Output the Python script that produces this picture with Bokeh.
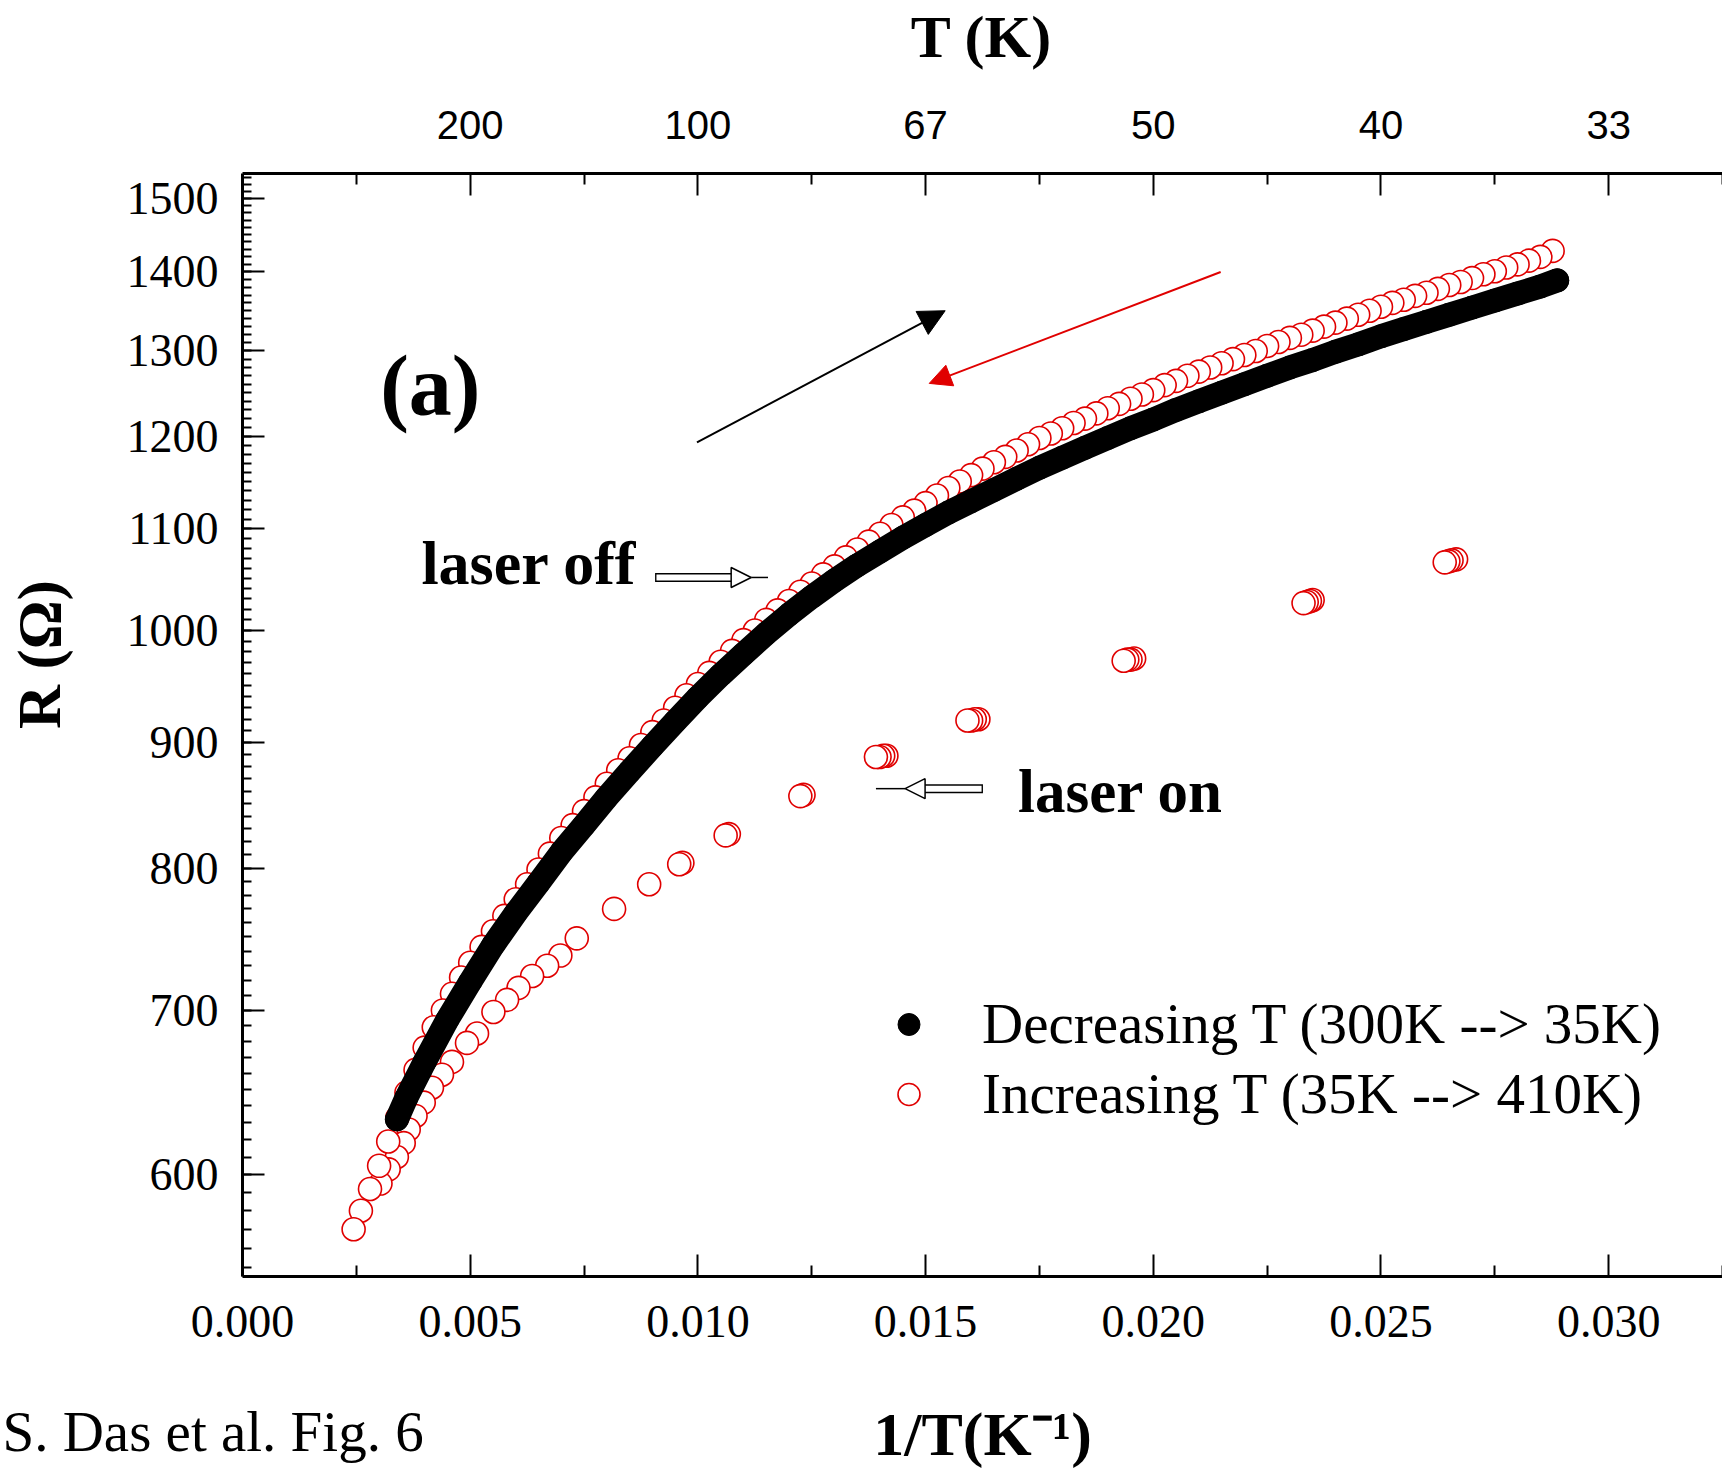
import math
from bokeh.plotting import figure
from bokeh.models import (Range1d, LinearAxis, LogAxis, FixedTicker, PrintfTickFormatter, Legend,
                          LegendItem, Label, Arrow, NormalHead)
from bokeh.embed import file_html
from bokeh.resources import INLINE

# ---------------- data ----------------
# Decreasing T (300K --> 35K), laser off
dec_x = [0.00339, 0.0036, 0.0040, 0.0045, 0.0050, 0.0055, 0.0060, 0.0065, 0.0070, 0.0075,
         0.0080, 0.0085, 0.0090, 0.0095, 0.0100, 0.0105, 0.0110, 0.0115, 0.0120, 0.0125,
         0.0130, 0.0135, 0.0140, 0.0145, 0.0150, 0.0155, 0.0160, 0.0165, 0.0170, 0.0175,
         0.0180, 0.0185, 0.0190, 0.0195, 0.0200, 0.0205, 0.0210, 0.0215, 0.0220, 0.0225,
         0.0230, 0.0235, 0.0240, 0.0245, 0.0250, 0.0255, 0.0260, 0.0265, 0.0270, 0.0275,
         0.0280, 0.0285, 0.02887]
dec_R = [632, 645, 667, 694, 719, 744, 767, 789, 812, 833,
         855, 876, 897, 918, 939, 959, 978, 997, 1015, 1032,
         1048, 1063, 1077, 1091, 1104, 1117, 1129, 1141, 1153, 1165,
         1176, 1187, 1198, 1209, 1219, 1230, 1240, 1250, 1260, 1270,
         1280, 1289, 1299, 1308, 1318, 1327, 1336, 1345, 1354, 1363,
         1372, 1381, 1389]

# Increasing T (35K --> 410K), laser off branch
inc_off_x = [0.00244, 0.0026, 0.0028, 0.0030, 0.0032, 0.0034, 0.0036, 0.0038, 0.0040, 0.0042,
             0.0044, 0.0046, 0.0048, 0.0050, 0.00525, 0.0055, 0.00575, 0.0060, 0.00625, 0.0065,
             0.00675, 0.0070, 0.00725, 0.0075, 0.00775, 0.0080, 0.00825, 0.0085, 0.00875, 0.0090,
             0.00925, 0.0095, 0.00975, 0.0100, 0.01025, 0.0105, 0.01075, 0.0110, 0.01125, 0.0115,
             0.01175, 0.0120, 0.01225, 0.0125, 0.01275, 0.0130, 0.01325, 0.0135, 0.01375, 0.0140,
             0.01425, 0.0145, 0.01475, 0.0150, 0.01525, 0.0155, 0.01575, 0.0160, 0.01625, 0.0165,
             0.01675, 0.0170, 0.01725, 0.0175, 0.01775, 0.0180, 0.01825, 0.0185, 0.01875, 0.0190,
             0.01925, 0.0195, 0.01975, 0.0200, 0.02025, 0.0205, 0.02075, 0.0210, 0.02125, 0.0215,
             0.02175, 0.0220, 0.02225, 0.0225, 0.02275, 0.0230, 0.02325, 0.0235, 0.02375, 0.0240,
             0.02425, 0.0245, 0.02475, 0.0250, 0.02525, 0.0255, 0.02575, 0.0260, 0.02625, 0.0265,
             0.02675, 0.0270, 0.02725, 0.0275, 0.02775, 0.0280, 0.02825, 0.0285, 0.02877]
inc_off_R = [570, 580, 592, 605, 619, 633, 648, 662, 676, 689,
             700, 711, 722, 732, 743, 754, 765, 777, 788, 799,
             811, 823, 833, 844, 855, 866, 877, 887, 898, 909,
             919, 930, 941, 951, 961, 971, 981, 991, 1000, 1010,
             1019, 1028, 1037, 1045, 1054, 1062, 1071, 1079, 1087, 1095,
             1104, 1112, 1119, 1127, 1135, 1143, 1150, 1157, 1164, 1171,
             1177, 1184, 1191, 1198, 1203, 1209, 1215, 1220, 1226, 1232,
             1237, 1243, 1248, 1253, 1259, 1264, 1270, 1275, 1280, 1285,
             1290, 1295, 1300, 1306, 1311, 1316, 1320, 1325, 1330, 1335,
             1340, 1345, 1350, 1355, 1360, 1364, 1369, 1373, 1378, 1383,
             1387, 1392, 1397, 1401, 1406, 1410, 1415, 1420, 1428]

# Increasing T, laser on points
inc_on_x = [0.00303, 0.00321, 0.00339, 0.00354, 0.00365, 0.0038, 0.00398, 0.00416, 0.00438, 0.0046,
            0.00493, 0.00515, 0.00551, 0.00581, 0.00606, 0.00636, 0.00669, 0.00698, 0.00734, 0.00816,
            0.00893, 0.00959, 0.00966, 0.01061, 0.01068, 0.01225, 0.01232, 0.01391, 0.01399, 0.01407,
            0.01414, 0.01592, 0.0160, 0.01608, 0.01616, 0.01935, 0.01943, 0.0195, 0.01958, 0.0233,
            0.02337, 0.02344, 0.0235, 0.0264, 0.02648, 0.02655, 0.02665]
inc_on_R = [595, 603, 610, 618, 626, 634, 642, 651, 659, 667,
            679, 685, 699, 707, 715, 723, 730, 737, 749, 770,
            788, 803, 804, 825, 826, 856, 857, 888, 888, 889,
            889, 919, 919, 920, 920, 972, 973, 973, 974, 1026,
            1027, 1028, 1029, 1066, 1067, 1068, 1069]

x_ticks = [0.000, 0.005, 0.010, 0.015, 0.020, 0.025, 0.030]
x_minor = [0.0025, 0.0075, 0.0125, 0.0175, 0.0225, 0.0275, 0.0325]
y_ticks = [600, 700, 800, 900, 1000, 1100, 1200, 1300, 1400, 1500]
y_minor = list(range(550, 1540, 10))
T_pos = [0.005, 0.010, 0.015, 0.020, 0.025, 0.030]
T_labels = ["200", "100", "67", "50", "40", "33"]

dec_label = "Decreasing T (300K --> 35K)"
inc_label = "Increasing T (35K --> 410K)"
x_title = "1/T(K\u207b\u00b9)"
top_title = "T (K)"
y_title = "R (\u03a9)"
caption = "S. Das et al. Fig. 6"

SERIF = "Liberation Serif"
SANS = "Liberation Sans"
RED = "#e00000"

# ---------------- geometry: the plot box inside the page ----------------
W, H = 1722, 1473
BOX_L, BOX_R, BOX_T, BOX_B = 242, 1722, 173, 1276
X0, X1 = 0.0, 0.0325
R0, R1 = 545.3, 1535.6

dxpp = (X1 - X0) / (BOX_R - BOX_L)
x_lo = X0 - BOX_L * dxpp
x_hi = X1 + (W - BOX_R) * dxpp
dlpp = (math.log10(R1) - math.log10(R0)) / (BOX_B - BOX_T)
R_hi = 10 ** (math.log10(R1) + BOX_T * dlpp)
R_lo = 10 ** (math.log10(R0) - (H - BOX_B) * dlpp)

p = figure(width=W, height=H, x_range=Range1d(x_lo, x_hi), y_range=Range1d(R_lo, R_hi),
           y_axis_type="log", x_axis_location=None, y_axis_location=None,
           output_backend="svg", toolbar_location=None,
           min_border=0, min_border_left=0, min_border_right=0, min_border_top=0,
           min_border_bottom=0)
p.outline_line_color = None
p.grid.visible = False
p.background_fill_color = "white"
p.border_fill_color = "white"


def style_axis(ax, tin, mtin):
    ax.axis_line_width = 3
    ax.axis_line_color = "black"
    ax.major_tick_in = tin
    ax.major_tick_out = 0
    ax.minor_tick_in = mtin
    ax.minor_tick_out = 0
    ax.major_tick_line_width = 2
    ax.minor_tick_line_width = 2
    ax.major_tick_line_color = "black"
    ax.minor_tick_line_color = "black"
    ax.major_label_text_color = "black"


xb = LinearAxis(ticker=FixedTicker(ticks=x_ticks, minor_ticks=x_minor),
                formatter=PrintfTickFormatter(format="%.3f"),
                fixed_location=R0, bounds=(X0, X1))
style_axis(xb, 22, 11)
xb.major_label_text_font = SERIF
xb.major_label_text_font_size = "46px"
xb.major_label_standoff = 29
p.add_layout(xb, "below")

yl = LogAxis(ticker=FixedTicker(ticks=y_ticks, minor_ticks=y_minor),
             formatter=PrintfTickFormatter(format="%d"),
             fixed_location=X0, bounds=(R0, R1))
style_axis(yl, 22, 9)
yl.major_label_text_font = SERIF
yl.major_label_text_font_size = "46px"
yl.major_label_standoff = 24
p.add_layout(yl, "left")

top = LinearAxis(ticker=FixedTicker(ticks=T_pos, minor_ticks=x_minor),
                 major_label_overrides={t: s for t, s in zip(T_pos, T_labels)},
                 fixed_location=R1, bounds=(X0, X1))
style_axis(top, 22, 11)
top.major_label_text_font = SANS
top.major_label_text_font_size = "40px"
top.major_label_standoff = 35
p.add_layout(top, "above")

# ---------------- series ----------------
red_all = sorted(zip(inc_off_x + inc_on_x, inc_off_R + inc_on_R), key=lambda t: -t[0])
red_x = [a for a, b in red_all]
red_R = [b for a, b in red_all]
red_pts = p.scatter(red_x, red_R, marker="circle", size=23, fill_color="white",
                    line_color=RED, line_width=1.6)
p.line(dec_x, dec_R, line_width=24, line_color="black", line_cap="round", line_join="round")
black_pts = p.scatter(dec_x, dec_R, marker="circle", size=23, fill_color="black", line_color="black")

legend = Legend(items=[LegendItem(label=dec_label, renderers=[black_pts]),
                       LegendItem(label=inc_label, renderers=[red_pts])],
                location=(881, H - 1126), glyph_width=55, glyph_height=60, label_height=60,
                label_standoff=46, spacing=5, padding=0, margin=0,
                border_line_color=None, background_fill_alpha=0,
                label_text_font=SERIF, label_text_font_size="57px", label_text_color="black")
p.add_layout(legend)

# ---------------- annotations ----------------
def text_label(x, y, text, size, bold=True, units="data", **kw):
    p.add_layout(Label(x=x, y=y, x_units=units, y_units=units, text=text, text_font=SERIF,
                       text_font_style="bold" if bold else "normal", text_font_size=size,
                       text_color="black", **kw))


text_label(0.004125, 1258, "(a)", "86px", text_align="center", text_baseline="middle")
text_label(0.003928, 1065, "laser off", "62px", text_align="left", text_baseline="alphabetic")
text_label(0.017029, 860, "laser on", "61px", text_align="left", text_baseline="alphabetic")
# titles placed in page pixels (screen units: from the page's bottom-left)
text_label(39, H - 654, y_title, "61px", units="screen", angle=math.pi / 2,
           text_align="center", text_baseline="middle")
text_label(981, H - 36, top_title, "60px", units="screen", text_align="center",
           text_baseline="alphabetic")
text_label(982, H - 1433, x_title, "62px", units="screen", text_align="center",
           text_baseline="alphabetic")
text_label(2, H - 1431, caption, "57px", bold=False, units="screen", text_align="left",
           text_baseline="alphabetic")


def hollow_arrow(x_tail, x_base, x_headtip, x_tip, yv):
    p.add_layout(Arrow(end=None, x_start=x_tail, y_start=yv, x_end=x_base, y_end=yv,
                       line_width=9, line_color="black"))
    d = 0.00003 if x_base > x_tail else -0.00003
    p.add_layout(Arrow(end=None, x_start=x_tail + d, y_start=yv, x_end=x_base + 3 * d, y_end=yv,
                       line_width=6, line_color="white"))
    p.add_layout(Arrow(end=NormalHead(size=20, fill_color="white", line_color="black", line_width=1.5),
                       x_start=x_base - 3 * d, y_start=yv, x_end=x_headtip, y_end=yv, line_alpha=0))
    p.add_layout(Arrow(end=None, x_start=x_headtip, y_start=yv, x_end=x_tip, y_end=yv,
                       line_width=1.5, line_color="black"))


hollow_arrow(0.00906, 0.01080, 0.01117, 0.01154, 1051)
hollow_arrow(0.01626, 0.01490, 0.01455, 0.01391, 862)

p.add_layout(Arrow(end=NormalHead(size=26, fill_color="black", line_color="black"),
                   x_start=0.00998, y_start=1193, x_end=0.01543, y_end=1350,
                   line_width=2, line_color="black"))
p.add_layout(Arrow(end=NormalHead(size=22, fill_color=RED, line_color=RED),
                   x_start=0.02148, y_start=1400, x_end=0.01508, y_end=1261,
                   line_width=2, line_color=RED))

open("out.html", "w").write(file_html(p, INLINE))
